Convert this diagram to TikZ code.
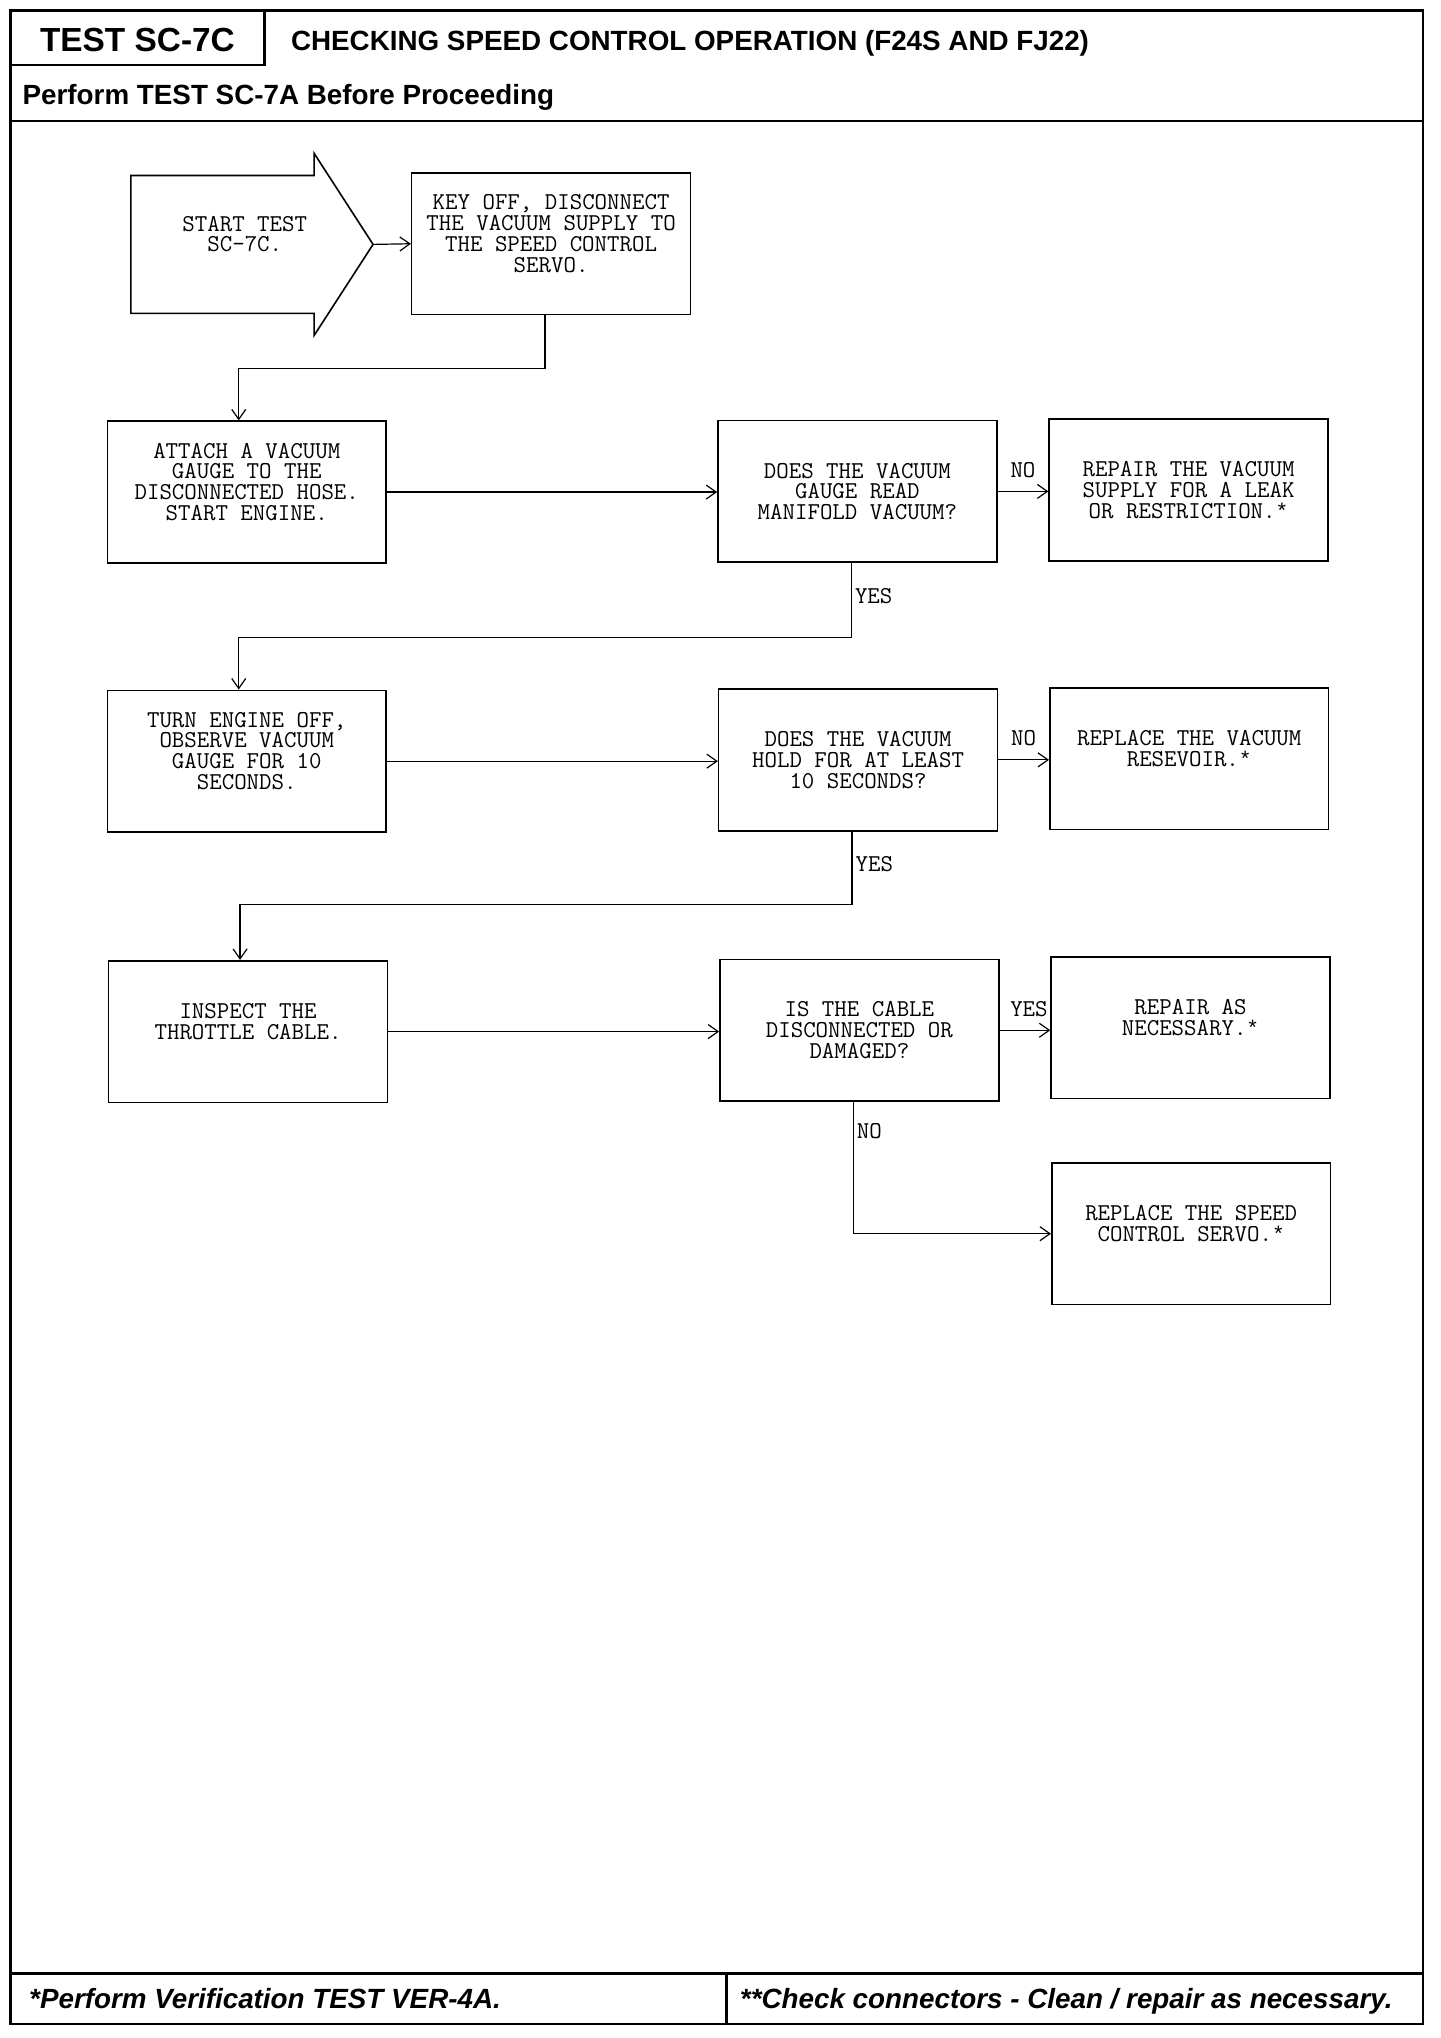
\documentclass[tikz,border=0pt]{standalone}
\usepackage{fontspec}
\newfontfamily\headfont{Liberation Sans}
\newfontfamily\starfont{Liberation Mono}
\usetikzlibrary{arrows.meta}
\newcommand{\boxstar}{{\starfont\fontsize{10.6}{10.4}\selectfont*}}

\begin{document}
\begin{tikzpicture}[x=0.6545pt,y=-0.65pt,
	>={Straight Barb[length=5pt,width=7pt]},
	flow_box/.style={rectangle,draw,line width=0.8pt,minimum width=139.4pt,minimum height=70.85pt,inner sep=2pt,align=center,font=\ttfamily\fontsize{12.1}{10.4}\selectfont},
	branch_label/.style={font=\ttfamily\fontsize{12.1}{10.4}\selectfont,inner sep=1pt},
	flow_line/.style={->,line width=0.6pt},
	frame_line/.style={line width=1.2pt},
	head_text/.style={inner sep=0pt,font=\headfont\bfseries\fontsize{13.9}{15}\selectfont},
	foot_text/.style={inner sep=0pt,font=\headfont\bfseries\itshape\fontsize{13.9}{15}\selectfont}]
	\useasboundingbox (0,0) rectangle (1100.1,1567.7);

	% page frame
	\draw[frame_line] (8,8) rectangle (1087,1557);
	\draw[frame_line] (202,8) -- (202,50) -- (8,50);
	\draw[frame_line] (8,93) -- (1087,93);
	\draw[frame_line] (8,1518) -- (1087,1518);
	\draw[frame_line] (555,1518) -- (555,1557);

	\node[head_text,anchor=base,font=\headfont\bfseries\fontsize{16.7}{18}\selectfont] (test_id) at (105,39.5) {TEST SC-7C};
	\node[head_text,anchor=base west] (title) at (222,38.7) {CHECKING SPEED CONTROL OPERATION (F24S AND FJ22)};
	\node[head_text,anchor=base west] (before) at (17,80) {Perform TEST SC-7A Before Proceeding};
	\node[foot_text,anchor=base west] (note_a) at (22,1545) {*Perform Verification TEST VER-4A.};
	\node[foot_text,anchor=base west] (note_b) at (565,1545) {**Check connectors - Clean / repair as necessary.};

	% start arrow
	\coordinate (start_tip) at (285,188);
	\draw[line width=0.8pt] (100,135) -- (240,135) -- (240,118) -- (start_tip) -- (240,258) -- (240,241) -- (100,241) -- cycle;
	\node[branch_label,align=center] (start) at (187,188) {START TEST\\SC-7C.\\~};

	\node[flow_box] (key) at (421,187.5) {KEY OFF, DISCONNECT\\THE VACUUM SUPPLY TO\\THE SPEED CONTROL\\SERVO.\\~};
	\node[flow_box] (attach) at (188.5,378.5) {ATTACH A VACUUM\\GAUGE TO THE\\DISCONNECTED HOSE.\\START ENGINE.\\~};
	\node[flow_box] (read) at (655,378) {DOES THE VACUUM\\GAUGE READ\\MANIFOLD VACUUM?};
	\node[flow_box] (repvac) at (908,377) {REPAIR THE VACUUM\\SUPPLY FOR A LEAK\\OR RESTRICTION.\boxstar};
	\node[flow_box] (turn) at (188.5,585.5) {TURN ENGINE OFF,\\OBSERVE VACUUM\\GAUGE FOR 10\\SECONDS.\\~};
	\node[flow_box] (hold) at (655.5,584.5) {DOES THE VACUUM\\HOLD FOR AT LEAST\\10 SECONDS?};
	\node[flow_box] (repres) at (908.5,583.5) {REPLACE THE VACUUM\\RESEVOIR.\boxstar\\~};
	\node[flow_box] (inspect) at (189.5,793.5) {INSPECT THE\\THROTTLE CABLE.\\~};
	\node[flow_box] (cable) at (656.5,792.5) {IS THE CABLE\\DISCONNECTED OR\\DAMAGED?};
	\node[flow_box] (repnec) at (909.5,790.5) {REPAIR AS\\NECESSARY.\boxstar\\~};
	\node[flow_box] (repservo) at (910,949) {REPLACE THE SPEED\\CONTROL SERVO.\boxstar\\~};

	\draw[flow_line] (start_tip) -- (key.west);
	\draw[flow_line] ([xshift=-3pt]key.south) -- ++(0,41) -| ([xshift=-4pt]attach.north);
	\draw[flow_line] (attach.east) -- (attach.east -| read.west);
	\draw[flow_line] (read.east) -- node[branch_label,above=5.5pt] (no_read) {NO} (read.east -| repvac.west);
	\draw[flow_line] ([xshift=-3pt]read.south) -- node[branch_label,right=0.5pt,pos=0.44] (yes_read) {YES} ++(0,57) -| ([xshift=-4pt]turn.north);
	\draw[flow_line] (turn.east) -- (turn.east -| hold.west);
	\draw[flow_line] (hold.east) -- node[branch_label,above=5.5pt] (no_hold) {NO} (hold.east -| repres.west);
	\draw[flow_line] ([xshift=-3pt]hold.south) -- node[branch_label,right=0.5pt,pos=0.45] (yes_hold) {YES} ++(0,56) -| ([xshift=-4pt]inspect.north);
	\draw[flow_line] (inspect.east) -- (inspect.east -| cable.west);
	\draw[flow_line] (cable.east) -- node[branch_label,above=5.5pt,xshift=2pt] (yes_cable) {YES} (cable.east -| repnec.west);
	\draw[flow_line] ([xshift=-3pt]cable.south) |- node[branch_label,right=0.5pt,pos=0.11] (no_cable) {NO} (repservo.west);
\end{tikzpicture}
\end{document}
